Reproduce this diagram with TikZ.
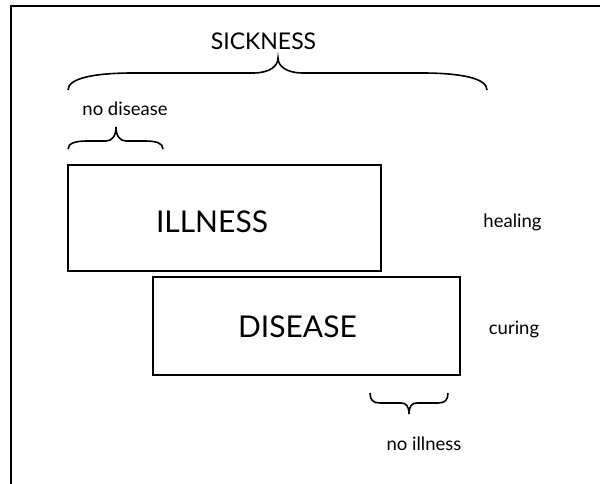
\documentclass[tikz,border=0pt]{standalone}
\usepackage{fontspec}
\setmainfont{Lato}
\begin{document}
\begin{tikzpicture}[x=1pt,y=-1pt,
  frame/.style={line width=2.3pt,line cap=rect},
  box/.style={draw,line width=2pt},
  brc/.style={line width=1.6pt},
  big/.style={font=\fontsize{30}{32}\selectfont,anchor=base,inner sep=0pt},
  mid/.style={font=\fontsize{23}{26}\selectfont,anchor=base,inner sep=0pt},
  small/.style={font=\fontsize{18.5}{21}\selectfont,anchor=base,inner sep=0pt}]
\useasboundingbox (0,0) rectangle (600,484);
% frame
\draw[frame] (11.3,490) -- (11.3,6) -- (610,6);
% boxes
\draw[box] (68,165) rectangle (381,271);
\draw[box] (153,277) rectangle (460,375);
% texts
\node[mid]   (sick)  at (263.5,50)  {SICKNESS};
\node[small] (nodis) at (125,116)   {no disease};
\node[big]   (ill)   at (212,232)   {ILLNESS};
\node[small] (heal)  at (512.5,227) {healing};
\node[big]   (dis)   at (297.5,337) {DISEASE};
\node[small] (cure)  at (514,334)   {curing};
\node[small] (noill) at (424,450)   {no illness};
% big brace
\draw[brc] (68,90) .. controls (68,78) and (95,73) .. (133,73) -- (253,73)
  .. controls (270,73) and (278,66) .. (278,58)
  .. controls (278,66) and (286,73) .. (303,73) -- (422,73)
  .. controls (460,73) and (487,78) .. (487,90);
% small top brace
\draw[brc] (68,149) .. controls (68,143) and (76,141) .. (87,141) -- (106,141)
  .. controls (112,141) and (116,136) .. (116,127)
  .. controls (116,136) and (120,141) .. (126,141) -- (145,141)
  .. controls (156,141) and (163,143) .. (163,149);
% bottom brace
\draw[brc] (370,393) .. controls (370,400) and (373,403) .. (380,403) -- (401,403)
  .. controls (406,403) and (409,406) .. (409,414)
  .. controls (409,406) and (412,403) .. (417,403) -- (438,403)
  .. controls (445,403) and (448,400) .. (448,393);
\end{tikzpicture}
\end{document}
